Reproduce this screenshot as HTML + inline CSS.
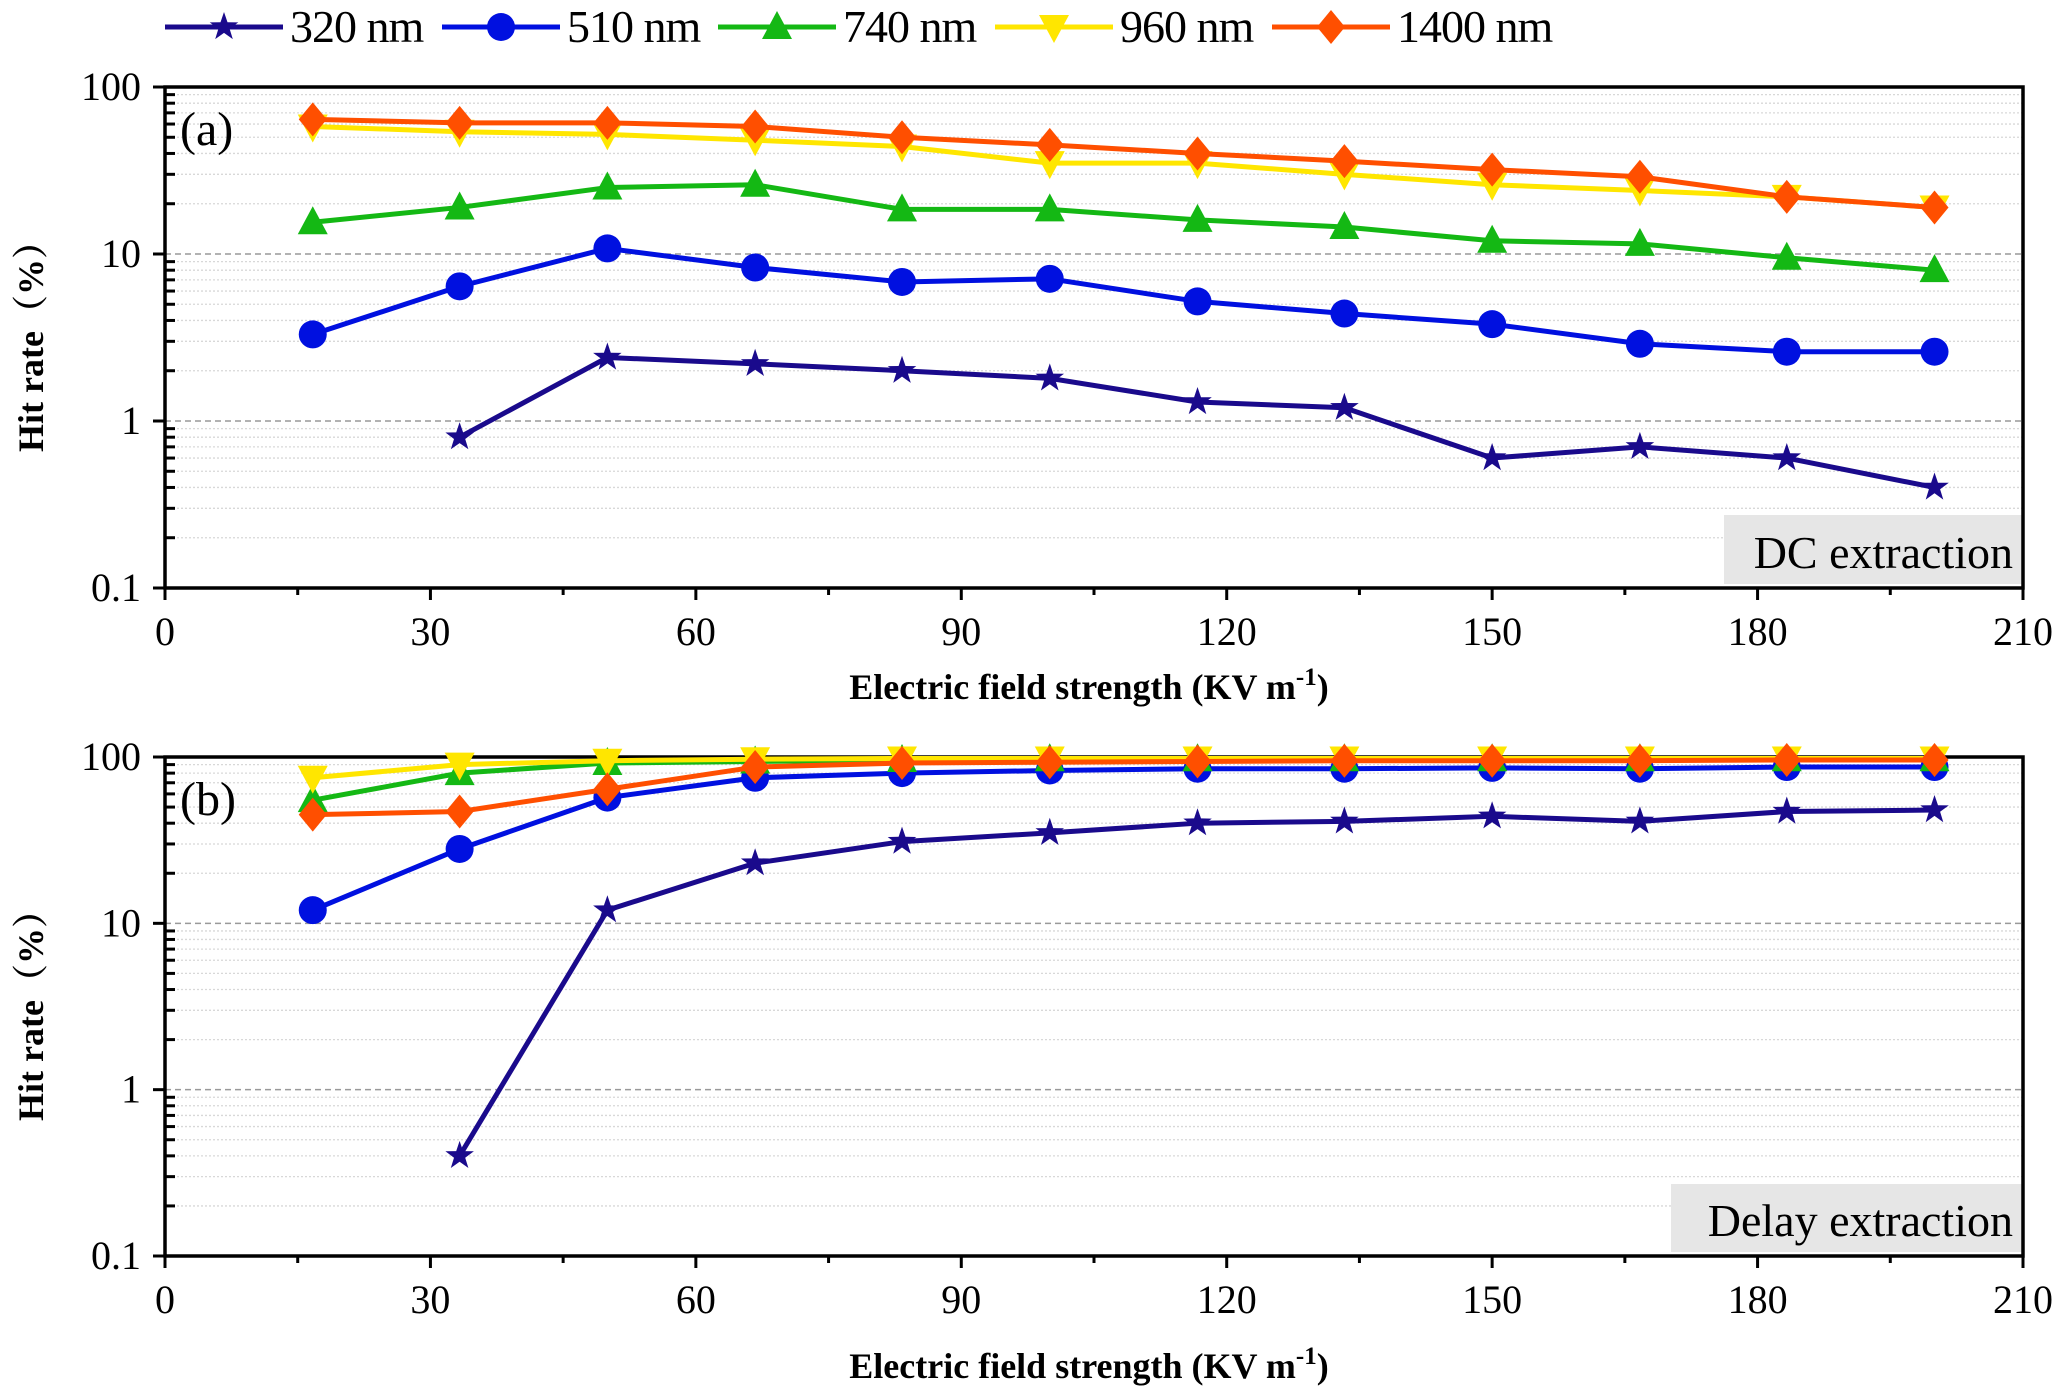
<!DOCTYPE html>
<html><head><meta charset="utf-8"><style>
body{margin:0;background:#fff;width:2067px;height:1397px;overflow:hidden}
svg{display:block}
text{font-family:"Liberation Serif","Times New Roman","DejaVu Serif","Noto Serif CJK SC",serif}
</style></head><body>
<svg id="chart" width="2067" height="1397" viewBox="0 0 2067 1397" xmlns="http://www.w3.org/2000/svg"></svg>
<script>
const xValues=[16.7,33.3,50,66.7,83.3,100,116.7,133.3,150,166.7,183.3,200];
const seriesNames=["320 nm","510 nm","740 nm","960 nm","1400 nm"];
const dc320=[null,0.8,2.4,2.2,2.0,1.8,1.3,1.2,0.6,0.7,0.6,0.4];
const dc510=[3.3,6.4,10.8,8.3,6.8,7.1,5.2,4.4,3.8,2.9,2.6,2.6];
const dc740=[15.5,19,25,26,18.5,18.5,16,14.5,12,11.5,9.5,8];
const dc960=[58,54,52,48,44,35,35,30,26,24,22,19];
const dc1400=[64,61,61,58,50,45,40,36,32,29,22,19];
const dl320=[null,0.4,12,23,31,35,40,41,44,41,47,48];
const dl510=[12,28,57,75,80,83,85,85,86,85,87,87];
const dl740=[55,80,92,94,96,97,97,97,97,97,97,97];
const dl960=[75,90,95,97,98,98,98,98,98,98,98,98];
const dl1400=[45,47,64,87,92,93,94,95,95,95,96,96];
const xTicks=[0,30,60,90,120,150,180,210];
const yTicks=[0.1,1,10,100];
const yTickLabels=["0.1","1","10","100"];

const NS="http://www.w3.org/2000/svg";
const svg=document.getElementById('chart');
function mk(tag,attrs,parent,text){const e=document.createElementNS(NS,tag);for(const k in attrs)e.setAttribute(k,attrs[k]);if(text!==undefined)e.textContent=text;(parent||svg).appendChild(e);return e;}
const colors=["#1a0a8c","#0010e0","#14b814","#ffe600","#ff4f00"];
const shapes=["star","circle","tri","itri","diamond"];
const X0=165,X1=2023;
function xs(v){return X0+(v/210)*(X1-X0);}
function marker(g,shape,x,y,c){
  const r=14;let e;
  if(shape==="circle")e=mk('circle',{cx:x,cy:y,r:r},g);
  else if(shape==="tri")e=mk('polygon',{points:`${x},${y-r-2} ${x-r-1},${y+r-2} ${x+r+1},${y+r-2}`},g);
  else if(shape==="itri")e=mk('polygon',{points:`${x},${y+r+2} ${x-r-1},${y-r+2} ${x+r+1},${y-r+2}`},g);
  else if(shape==="diamond")e=mk('polygon',{points:`${x},${y-r-3} ${x+r},${y} ${x},${y+r+3} ${x-r},${y}`},g);
  else{let p=[];for(let i=0;i<10;i++){const a=-Math.PI/2+i*Math.PI/5;const rr=i%2?r*0.42:r+1;p.push((x+rr*Math.cos(a)).toFixed(1)+","+(y+rr*Math.sin(a)).toFixed(1));}e=mk('polygon',{points:p.join(' ')},g);}
  e.setAttribute('fill',c);
  return e;
}
function panel(id,top,bottom,data,label,boxText,box,xTitleY){
  const g=mk('g',{});
  
  
  const dec=(bottom-top)/3;
  const ys=v=>bottom-(Math.log10(v)+1)*dec;
  for(let d=-1;d<2;d++){for(let m=2;m<=9;m++){const y=ys(m*Math.pow(10,d));mk('line',{x1:X0,x2:X1,y1:y,y2:y,stroke:'#d8d8d8','stroke-width':1.3,'stroke-dasharray':'2,2'},g);
    mk('line',{x1:X0,x2:X0+10,y1:y,y2:y,stroke:'#000','stroke-width':3},g);}}
  [1,10].forEach(v=>{const y=ys(v);mk('line',{x1:X0,x2:X1,y1:y,y2:y,stroke:'#999','stroke-width':1.5,'stroke-dasharray':'6,4'},g);});
  const bx=mk('rect',{x:box[0],y:box[1],width:box[2],height:box[3],fill:'#e6e6e6'},g);
  
  const bt=mk('text',{x:box[0]+box[2]-10,y:box[1]+box[3]-16,'font-size':46,'text-anchor':'end'},g,boxText);
  
  mk('rect',{x:X0,y:top,width:X1-X0,height:bottom-top,fill:'none',stroke:'#000','stroke-width':3.5},g);
  xTicks.forEach(t=>{const x=xs(t);mk('line',{x1:x,x2:x,y1:bottom,y2:bottom+12,stroke:'#000','stroke-width':3},g);
    const tl=mk('text',{x:x,y:bottom+57,'font-size':40,'text-anchor':'middle'},g,String(t));
    });
  for(let t=15;t<210;t+=30){const x=xs(t);mk('line',{x1:x,x2:x,y1:bottom,y2:bottom+7,stroke:'#000','stroke-width':3},g);}
  yTicks.forEach((t,i)=>{const y=ys(t);mk('line',{x1:X0-12,x2:X0,y1:y,y2:y,stroke:'#000','stroke-width':3},g);
    const tl=mk('text',{x:X0-24,y:y+13,'font-size':40,'text-anchor':'end'},g,yTickLabels[i]);
    });
  const xt=mk('text',{x:(X0+X1)/2-5,y:xTitleY,'font-size':36,'font-weight':'bold','text-anchor':'middle'},g);
  
  xt.innerHTML='Electric field strength (KV m<tspan font-size="25" dy="-14">-1</tspan><tspan dy="14">)</tspan>';
  const yt=mk('text',{x:0,y:0,'font-size':36,'font-weight':'bold','text-anchor':'middle',transform:`translate(43,${(top+bottom)/2}) rotate(-90)`},g,'Hit rate（%）');
  
  const pl=mk('text',{x:180,y:top+58,'font-size':48},g,label);
  
  data.forEach((arr,si)=>{
    const sg=mk('g',{},g);
    
    
    let pts=[];arr.forEach((v,i)=>{if(v!==null)pts.push([xs(xValues[i]),ys(v)]);});
    mk('polyline',{points:pts.map(p=>p.join(',')).join(' '),fill:'none',stroke:colors[si],'stroke-width':5,'stroke-linejoin':'round'},sg);
    pts.forEach(p=>{const m=marker(sg,shapes[si],p[0],p[1],colors[si]);
      
      });
  });
}
panel('panel-dc',87,588,[dc320,dc510,dc740,dc960,dc1400],'(a)','DC extraction',[1724,515,299,69],699);
panel('panel-delay',757,1256,[dl320,dl510,dl740,dl960,dl1400],'(b)','Delay extraction',[1671,1184,352,68],1378);
const lg=mk('g',{});


const lx=[165,442,718,995,1272];
seriesNames.forEach((n,i)=>{
  const eg=mk('g',{},lg);
  
  
  mk('line',{x1:lx[i],x2:lx[i]+118,y1:27,y2:27,stroke:colors[i],'stroke-width':5},eg);
  marker(eg,shapes[i],lx[i]+59,27,colors[i]);
  mk('text',{x:lx[i]+125,y:42,'font-size':46,'letter-spacing':'-1'},eg,n);
});
</script>
</body></html>
